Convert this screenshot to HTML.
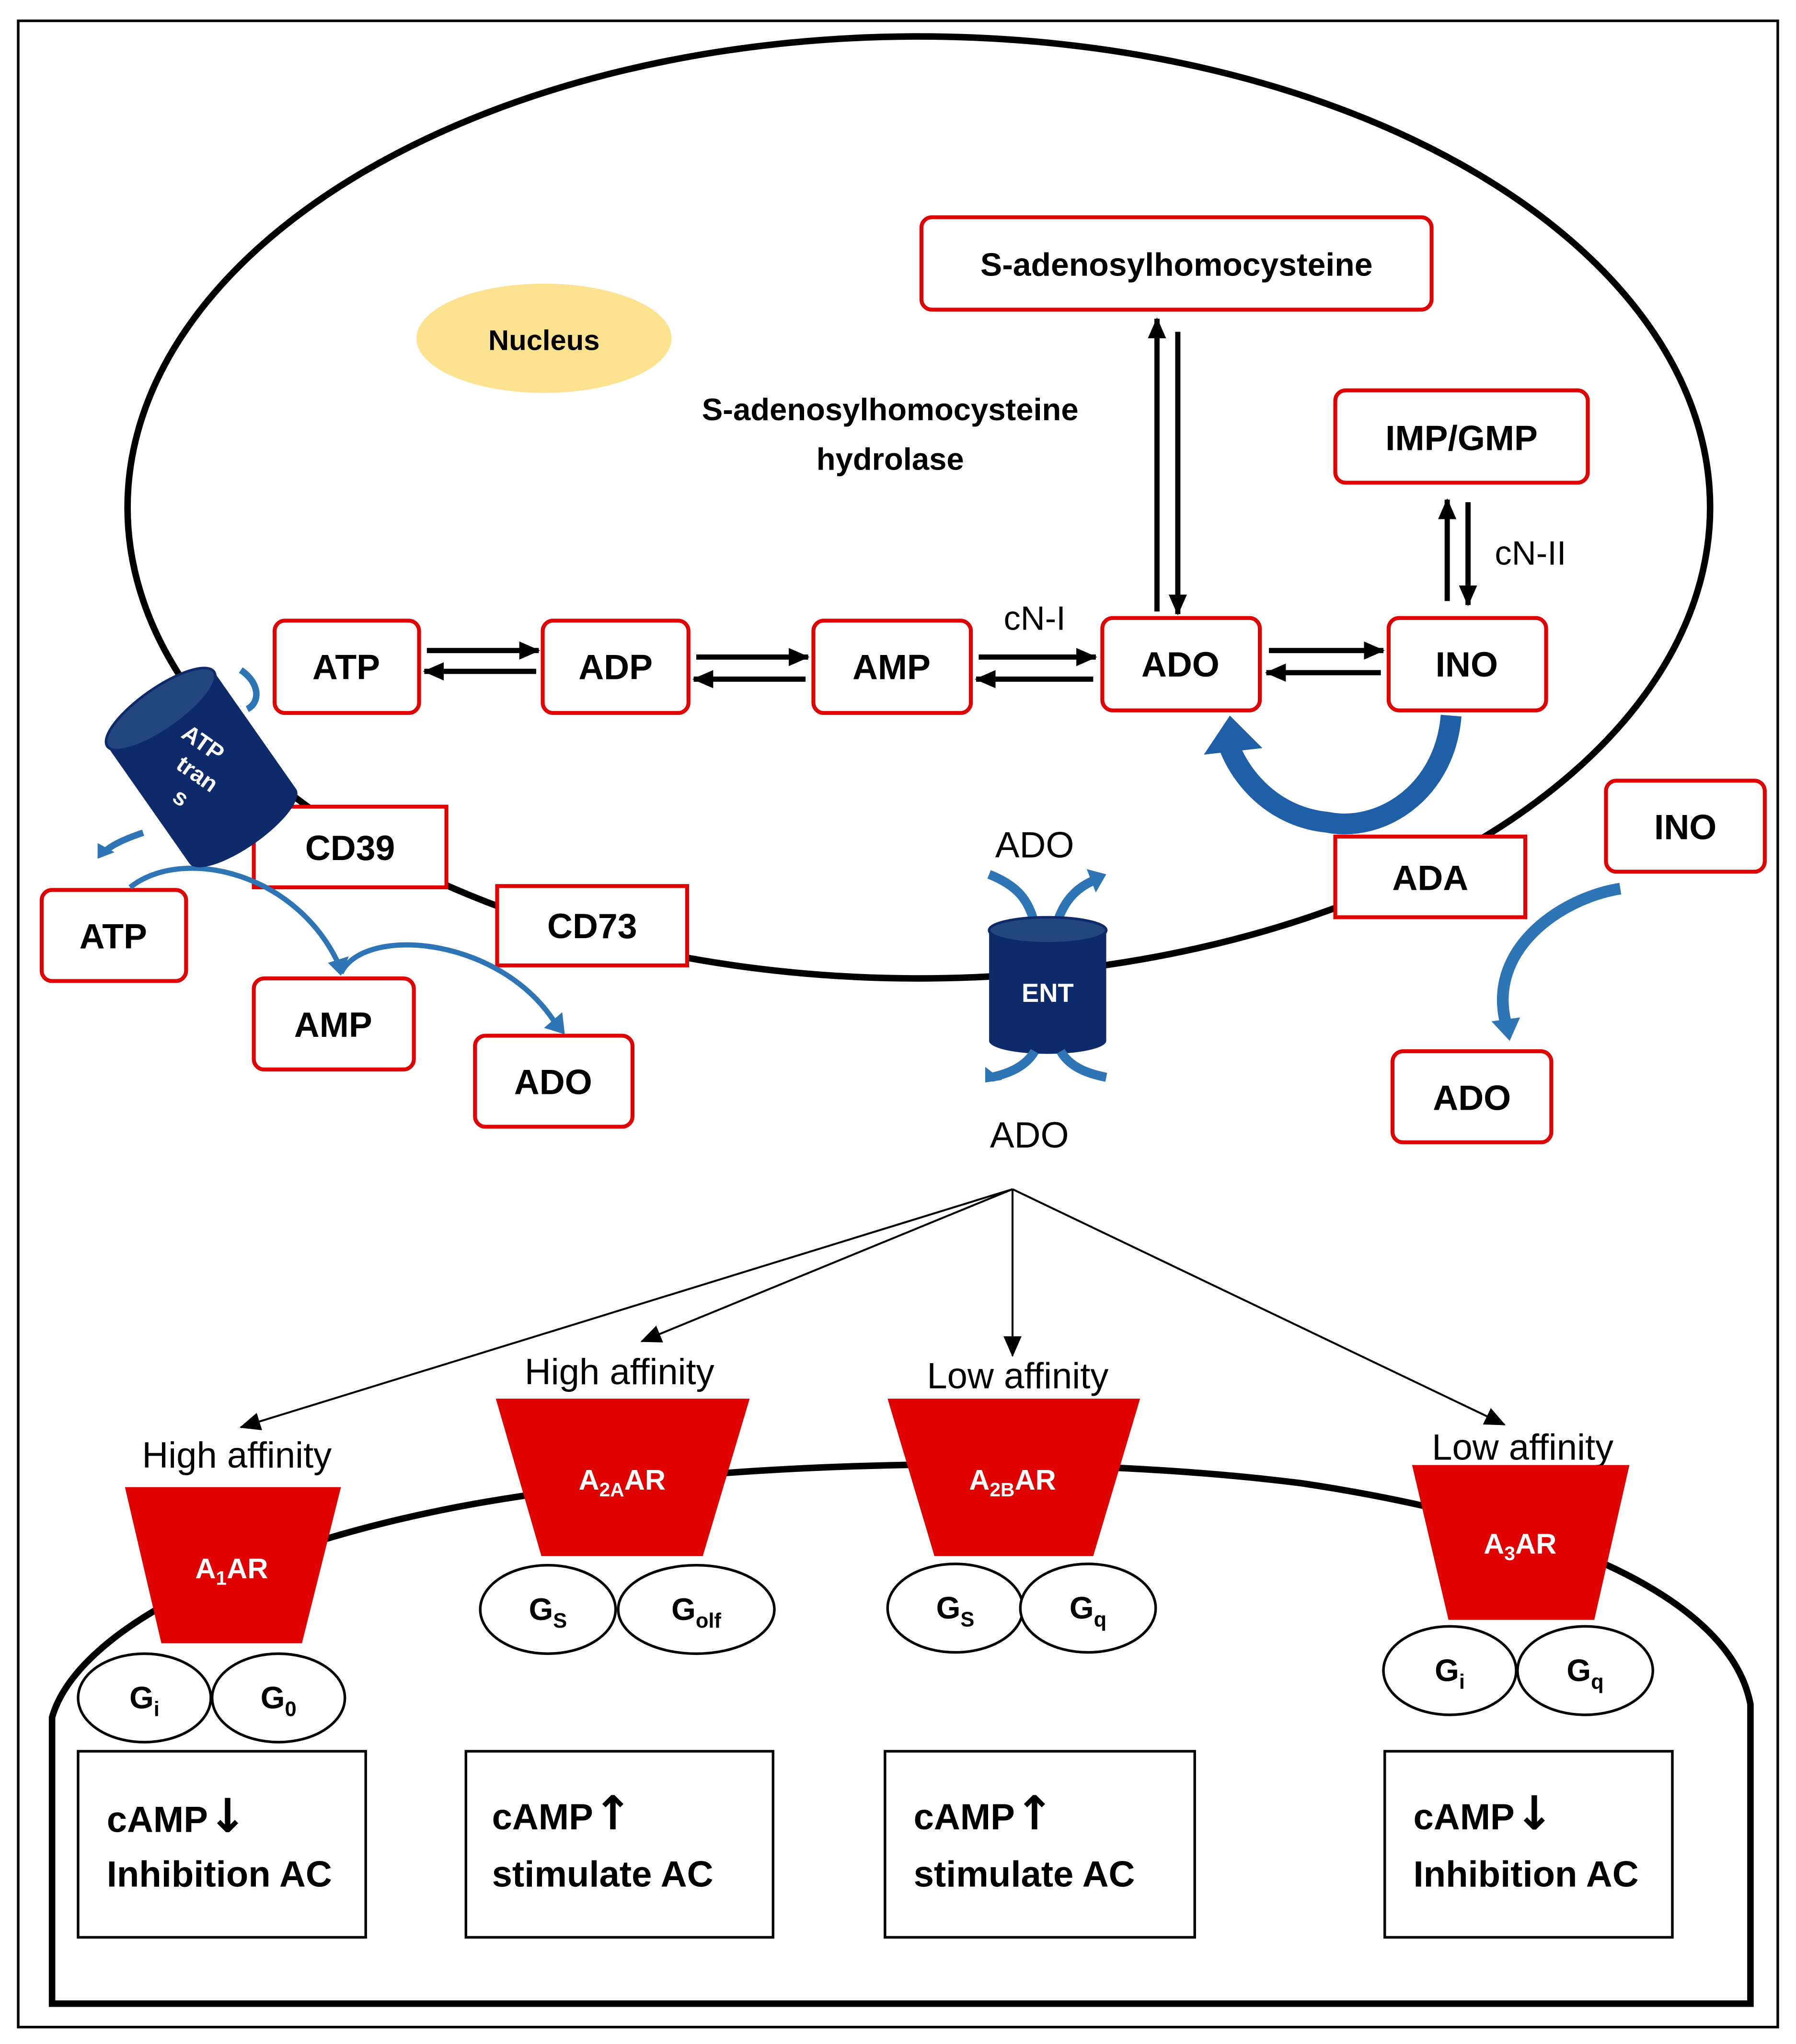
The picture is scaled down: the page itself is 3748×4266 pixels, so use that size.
<!DOCTYPE html>
<html><head><meta charset="utf-8"><style>
html,body{margin:0;padding:0;background:#fff}
svg{display:block}
text{font-family:"Liberation Sans","DejaVu Sans",sans-serif}
.b{font-weight:bold}
</style></head><body>
<svg width="3748" height="4266" viewBox="0 0 1380 1571" preserveAspectRatio="none" xmlns="http://www.w3.org/2000/svg">
<defs>
<marker id="ah2" markerWidth="16" markerHeight="14" refX="15" refY="7" orient="auto" markerUnits="userSpaceOnUse">
<path d="M0,0 L16,7 L0,14 z" fill="#000"/></marker>
</defs>
<rect x="0" y="0" width="1380" height="1571" fill="#fff"/>
<rect x="14" y="16" width="1352" height="1542" fill="none" stroke="#000" stroke-width="2"/>
<ellipse cx="706" cy="390" rx="608" ry="362" fill="none" stroke="#000" stroke-width="5"/>
<path d="M40,1540 L40,1320 C60,1250 200,1180 400,1150 C550,1125 800,1115 1000,1140 C1200,1170 1330,1230 1345,1310 L1345,1540 Z" fill="none" stroke="#000" stroke-width="5"/>
<ellipse cx="418" cy="260" rx="98" ry="42" fill="#fde38f"/>
<text x="418" y="269" font-size="22" text-anchor="middle" class="b">Nucleus</text>
<text x="684" y="323" font-size="24" text-anchor="middle" class="b">S-adenosylhomocysteine</text>
<text x="684" y="361" font-size="24" text-anchor="middle" class="b">hydrolase</text>
<g fill="#fff" stroke="#e00000" stroke-width="3">
<rect x="708" y="167" width="392" height="71" rx="8"/>
<rect x="1026" y="300" width="194" height="71" rx="8"/>
<rect x="211" y="477" width="111" height="71" rx="8"/>
<rect x="417" y="477" width="112" height="71" rx="8"/>
<rect x="625" y="477" width="121" height="71" rx="8"/>
<rect x="847" y="475" width="121" height="71" rx="8"/>
<rect x="1067" y="475" width="121" height="71" rx="8"/>
<rect x="32" y="684" width="111" height="70" rx="8"/>
<rect x="195" y="752" width="123" height="70" rx="8"/>
<rect x="365" y="796" width="121" height="70" rx="8"/>
<rect x="1234" y="600" width="122" height="70" rx="8"/>
<rect x="1070" y="808" width="122" height="70" rx="8"/>
</g>
<g class="b" font-size="27" text-anchor="middle">
<text x="904" y="212" font-size="25">S-adenosylhomocysteine</text>
<text x="1123" y="346">IMP/GMP</text>
<text x="266" y="522">ATP</text>
<text x="473" y="522">ADP</text>
<text x="685" y="522">AMP</text>
<text x="907" y="520">ADO</text>
<text x="1127" y="520">INO</text>
<text x="87" y="729">ATP</text>
<text x="256" y="797">AMP</text>
<text x="425" y="841">ADO</text>
<text x="1295" y="645">INO</text>
<text x="1131" y="853">ADO</text>
</g>
<g stroke="#000" stroke-width="4" fill="none">
<line x1="328" y1="500" x2="414" y2="500" marker-end="url(#ah2)"/>
<line x1="412" y1="516" x2="326" y2="516" marker-end="url(#ah2)"/>
<line x1="535" y1="505" x2="621" y2="505" marker-end="url(#ah2)"/>
<line x1="619" y1="522" x2="533" y2="522" marker-end="url(#ah2)"/>
<line x1="752" y1="505" x2="842" y2="505" marker-end="url(#ah2)"/>
<line x1="840" y1="522" x2="750" y2="522" marker-end="url(#ah2)"/>
<line x1="975" y1="500" x2="1063" y2="500" marker-end="url(#ah2)"/>
<line x1="1061" y1="517" x2="973" y2="517" marker-end="url(#ah2)"/>
<line x1="889" y1="470" x2="889" y2="245" marker-end="url(#ah2)"/>
<line x1="905" y1="255" x2="905" y2="472" marker-end="url(#ah2)"/>
<line x1="1112" y1="462" x2="1112" y2="384" marker-end="url(#ah2)"/>
<line x1="1128" y1="386" x2="1128" y2="465" marker-end="url(#ah2)"/>
</g>
<text x="795" y="484" font-size="26" text-anchor="middle">cN-I</text>
<text x="1176" y="434" font-size="26" text-anchor="middle">cN-II</text>
<path d="M1115,550 C1110,610 1060,640 1020,632 C980,628 955,600 945,575" fill="none" stroke="#1f5fa8" stroke-width="16"/>
<path d="M925,580 L945,550 L970,575 Z" fill="#1f5fa8"/>
<g fill="#fff" stroke="#e00000" stroke-width="3">
<rect x="1026" y="643" width="146" height="62"/>
<rect x="195" y="620" width="148" height="62"/>
<rect x="382" y="681" width="146" height="61"/>
</g>
<g class="b" font-size="27" text-anchor="middle">
<text x="1099" y="684">ADA</text>
<text x="269" y="661">CD39</text>
<text x="455" y="721">CD73</text>
</g>
<path d="M1245,683 C1200,690 1140,730 1158,790" fill="none" stroke="#2e75b6" stroke-width="9"/>
<path d="M1146,785 L1160,800 L1168,782 Z" fill="#2e75b6"/>
<path d="M100,682 C140,650 230,670 262,745" fill="none" stroke="#2e75b6" stroke-width="4"/>
<path d="M252,740 L262,750 L268,735 Z" fill="#2e75b6"/>
<path d="M262,748 C280,710 390,720 430,792" fill="none" stroke="#2e75b6" stroke-width="4"/>
<path d="M418,790 L434,795 L432,778 Z" fill="#2e75b6"/>
<g transform="translate(155,590) rotate(-35)">
<rect x="-50" y="-55" width="100" height="110" fill="#0d2a6b"/>
<ellipse cx="0" cy="-55" rx="50" ry="16" fill="#24467f" stroke="#0d2a6b" stroke-width="2"/>
<ellipse cx="0" cy="55" rx="50" ry="16" fill="#0d2a6b"/>
<g transform="rotate(70)" fill="#fff" font-size="18" class="b" text-anchor="middle">
<text x="-10" y="-10">ATP</text><text x="0" y="12">tran</text><text x="0" y="34">s</text></g>
</g>
<path d="M185,515 C200,525 200,540 190,545" fill="none" stroke="#2e75b6" stroke-width="5"/>
<path d="M110,640 C95,645 85,650 80,655" fill="none" stroke="#2e75b6" stroke-width="5"/>
<path d="M75,648 L75,660 L88,655 Z" fill="#2e75b6"/>
<path d="M760,672 C780,680 790,690 795,710" fill="none" stroke="#2e75b6" stroke-width="7"/>
<path d="M812,710 C818,690 830,680 845,675" fill="none" stroke="#2e75b6" stroke-width="7"/>
<path d="M835,668 L850,672 L842,686 Z" fill="#2e75b6"/>
<rect x="760" y="715" width="90" height="85" fill="#0d2a6b"/>
<ellipse cx="805" cy="715" rx="45" ry="10" fill="#24467f" stroke="#0d2a6b" stroke-width="2"/>
<ellipse cx="805" cy="800" rx="45" ry="10" fill="#0d2a6b"/>
<text x="805" y="770" font-size="20" class="b" fill="#fff" text-anchor="middle">ENT</text>
<path d="M795,808 C788,820 775,825 762,828" fill="none" stroke="#2e75b6" stroke-width="7"/>
<path d="M757,820 L757,832 L770,830 Z" fill="#2e75b6"/>
<path d="M815,808 C822,820 835,825 850,828" fill="none" stroke="#2e75b6" stroke-width="7"/>
<text x="795" y="659" font-size="28" text-anchor="middle">ADO</text>
<text x="791" y="882" font-size="28" text-anchor="middle">ADO</text>
<g stroke="#000" stroke-width="1.5">
<line x1="778" y1="914" x2="185" y2="1097" marker-end="url(#ah2)"/>
<line x1="778" y1="914" x2="493" y2="1031" marker-end="url(#ah2)"/>
<line x1="778" y1="914" x2="778" y2="1042" marker-end="url(#ah2)"/>
<line x1="778" y1="914" x2="1156" y2="1095" marker-end="url(#ah2)"/>
</g>
<g font-size="28" text-anchor="middle">
<text x="182" y="1128">High affinity</text>
<text x="476" y="1064">High affinity</text>
<text x="782" y="1067">Low affinity</text>
<text x="1170" y="1122">Low affinity</text>
</g>
<g fill="#e00000">
<polygon points="96,1143 262,1143 232,1263 124,1263"/>
<polygon points="381,1075 576,1075 540,1196 416,1196"/>
<polygon points="682,1075 876,1075 840,1196 718,1196"/>
<polygon points="1085,1126 1252,1126 1225,1245 1113,1245"/>
</g>
<g fill="#fff" class="b" font-size="22" text-anchor="middle">
<text x="178" y="1213">A<tspan font-size="15" dy="5">1</tspan><tspan dy="-5">AR</tspan></text>
<text x="478" y="1145">A<tspan font-size="15" dy="5">2A</tspan><tspan dy="-5">AR</tspan></text>
<text x="778" y="1145">A<tspan font-size="15" dy="5">2B</tspan><tspan dy="-5">AR</tspan></text>
<text x="1168" y="1194">A<tspan font-size="15" dy="5">3</tspan><tspan dy="-5">AR</tspan></text>
</g>
<g fill="#fff" stroke="#000" stroke-width="2">
<ellipse cx="111" cy="1305" rx="51" ry="34"/>
<ellipse cx="214" cy="1305" rx="51" ry="34"/>
<ellipse cx="421" cy="1237" rx="52" ry="34"/>
<ellipse cx="535" cy="1237" rx="60" ry="34"/>
<ellipse cx="734" cy="1236" rx="52" ry="34"/>
<ellipse cx="836" cy="1236" rx="52" ry="34"/>
<ellipse cx="1114" cy="1284" rx="51" ry="34"/>
<ellipse cx="1218" cy="1284" rx="52" ry="34"/>
</g>
<g class="b" font-size="24" text-anchor="middle">
<text x="111" y="1313">G<tspan font-size="16" dy="6">i</tspan></text>
<text x="214" y="1313">G<tspan font-size="16" dy="6">0</tspan></text>
<text x="421" y="1245">G<tspan font-size="16" dy="6">S</tspan></text>
<text x="535" y="1245">G<tspan font-size="16" dy="6">olf</tspan></text>
<text x="734" y="1244">G<tspan font-size="16" dy="6">S</tspan></text>
<text x="836" y="1244">G<tspan font-size="16" dy="6">q</tspan></text>
<text x="1114" y="1292">G<tspan font-size="16" dy="6">i</tspan></text>
<text x="1218" y="1292">G<tspan font-size="16" dy="6">q</tspan></text>
</g>
<g fill="#fff" stroke="#000" stroke-width="2">
<rect x="60" y="1346" width="221" height="143"/>
<rect x="358" y="1346" width="236" height="143"/>
<rect x="680" y="1346" width="238" height="143"/>
<rect x="1064" y="1346" width="221" height="143"/>
</g>
<g class="b" font-size="28">
<text x="82" y="1408">cAMP<tspan font-size="36" font-family="DejaVu Sans">↓</tspan></text><text x="82" y="1450">Inhibition AC</text>
<text x="378" y="1406">cAMP<tspan font-size="36" font-family="DejaVu Sans">↑</tspan></text><text x="378" y="1450">stimulate AC</text>
<text x="702" y="1406">cAMP<tspan font-size="36" font-family="DejaVu Sans">↑</tspan></text><text x="702" y="1450">stimulate AC</text>
<text x="1086" y="1406">cAMP<tspan font-size="36" font-family="DejaVu Sans">↓</tspan></text><text x="1086" y="1450">Inhibition AC</text>
</g>
</svg>
</body></html>
